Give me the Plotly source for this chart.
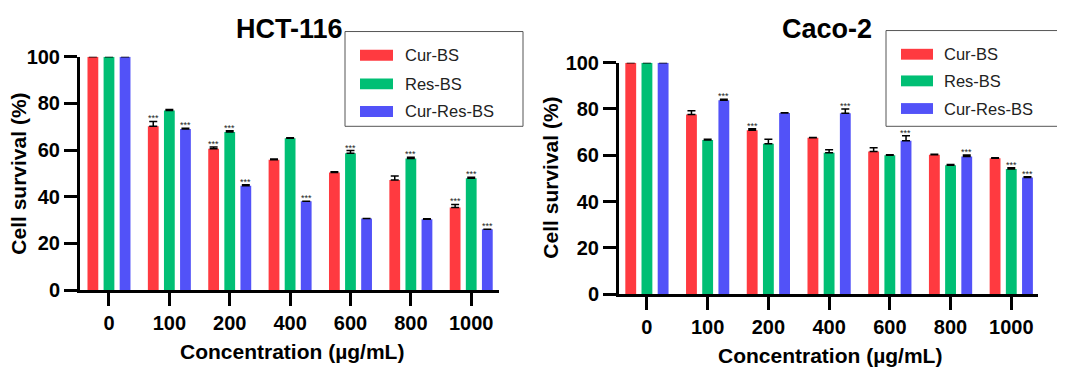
import plotly.graph_objects as go

W, H = 1065, 371

categories = ["0", "100", "200", "400", "600", "800", "1000"]
series_names = ["Cur-BS", "Res-BS", "Cur-Res-BS"]
colors = ["#FF3A40", "#00BF74", "#5252F8"]

# HCT-116
hct_cur = [100, 70.2, 60.6, 55.9, 50.4, 47.2, 35.4]
hct_res = [100, 77.0, 67.8, 65.1, 58.6, 56.4, 47.9]
hct_cres = [100, 69.0, 44.7, 38.1, 30.7, 30.4, 26.1]
hct_cur_err = [0, 2.1, 0.7, 0.3, 0.3, 1.7, 1.3]
hct_res_err = [0, 0.4, 0.5, 0.2, 1.2, 0.5, 0.5]
hct_cres_err = [0, 0.4, 0.5, 0.0, 0.0, 0.2, 0.0]
hct_stars = [[False, True, True, False, False, False, True],
             [False, False, True, False, True, True, True],
             [False, True, True, True, False, False, True]]

# Caco-2
caco_cur = [100, 77.6, 70.8, 67.5, 61.6, 60.2, 58.7]
caco_res = [100, 66.6, 65.0, 61.1, 60.0, 55.7, 54.1]
caco_cres = [100, 83.8, 78.2, 78.1, 66.2, 59.4, 50.4]
caco_cur_err = [0, 1.6, 0.6, 0.2, 1.6, 0.2, 0.2]
caco_res_err = [0, 0.3, 1.9, 1.3, 0.2, 0.3, 0.5]
caco_cres_err = [0, 0.4, 0.2, 1.9, 2.2, 0.7, 0.3]
caco_stars = [[False, False, True, False, False, False, False],
              [False, False, False, False, False, False, True],
              [False, True, False, True, True, True, True]]

FONT = "Liberation Sans"

# the page places the figure offset/compressed; convert target screen px -> paper
def px(x):
    return (x - 8) / W

def py(y):
    return 1 - ((y - 16.3) / 0.953) / H

fig = go.Figure()

panels = [
    dict(xa="x", ya="y", vals=[hct_cur, hct_res, hct_cres],
         errs=[hct_cur_err, hct_res_err, hct_cres_err], stars=hct_stars),
    dict(xa="x2", ya="y2", vals=[caco_cur, caco_res, caco_cres],
         errs=[caco_cur_err, caco_res_err, caco_cres_err], stars=caco_stars),
]

annotations = []
offsets = [-16, 0, 16]
for p in panels:
    for i, name in enumerate(series_names):
        fig.add_trace(go.Bar(
            x=categories, y=p["vals"][i], name=name,
            marker=dict(color=colors[i], line=dict(width=0)),
            error_y=dict(type="data", symmetric=False, array=p["errs"][i],
                         arrayminus=[0] * len(categories),
                         color="black", thickness=1.5, width=4),
            xaxis=p["xa"], yaxis=p["ya"], showlegend=False,
        ))
        for j, c in enumerate(categories):
            if p["stars"][i][j]:
                annotations.append(dict(
                    x=j, y=p["vals"][i][j] + p["errs"][i][j],
                    xref=p["xa"], yref=p["ya"], text="***",
                    showarrow=False, yanchor="bottom", xanchor="center",
                    xshift=offsets[i], yshift=-4,
                    font=dict(family=FONT, size=9, color="#222")))

axis_common = dict(showline=True, linewidth=3, linecolor="black",
                   ticks="outside", ticklen=13, tickwidth=3, tickcolor="black",
                   showgrid=False, zeroline=False,
                   tickfont=dict(family=FONT, size=20, color="black", weight="bold"))

fig.update_layout(
    width=W, height=H,
    margin=dict(l=0, r=0, t=0, b=0),
    paper_bgcolor="white", plot_bgcolor="white",
    barmode="group", bargap=0.2, bargroupgap=0.33,
    xaxis=dict(domain=[px(80), px(499)], anchor="y", type="category",
               range=[-0.48, 6.46], ticklabelstandoff=0, **axis_common),
    yaxis=dict(domain=[py(291), py(54.5)], anchor="x",
               range=[0, 100], tickvals=[0, 20, 40, 60, 80, 100],
               ticklabelstandoff=0, **axis_common),
    xaxis2=dict(domain=[px(619), px(1038)], anchor="y2", type="category",
                range=[-0.46, 6.44], ticklabelstandoff=0, **axis_common),
    yaxis2=dict(domain=[py(295), py(60.5)], anchor="x2",
                range=[0, 100], tickvals=[0, 20, 40, 60, 80, 100],
                ticklabelstandoff=0, **axis_common),
)

# Titles (pinned to top edge)
for t, x in [("HCT-116", 289), ("Caco-2", 827)]:
    annotations.append(dict(x=px(x), y=1, xref="paper", yref="paper",
                            text="<b>%s</b>" % t, showarrow=False,
                            xanchor="center", yanchor="top", yshift=7,
                            font=dict(family=FONT, size=27, color="black")))

# Axis titles
texts = [
    ("Concentration (µg/mL)", 292, 353, 0),
    ("Concentration (µg/mL)", 830, 357, 0),
    ("Cell survival (%)", 19, 173, -90),
    ("Cell survival (%)", 551, 177, -90),
]
for t, x, y, ang in texts:
    annotations.append(dict(x=px(x), y=py(y), xref="paper", yref="paper",
                            text="<b>%s</b>" % t, showarrow=False,
                            xanchor="center", yanchor="middle", textangle=ang,
                            font=dict(family=FONT, size=21, color="black")))

# Custom legends
shapes = []
legends = [
    dict(box=(345, 29, 523, 125), sw=(360, 393), tx=403, rows=[53, 82, 110]),
    dict(box=(886, 28, 1061, 125), sw=(901, 933), tx=942, rows=[52, 79, 107]),
]
for L in legends:
    x0, y0, x1, y1 = L["box"]
    shapes.append(dict(type="rect", xref="paper", yref="paper",
                       x0=px(x0), x1=px(x1), y0=py(y1), y1=py(y0),
                       line=dict(color="#555", width=1), fillcolor="white", layer="above"))
    for i, ry in enumerate(L["rows"]):
        shapes.append(dict(type="rect", xref="paper", yref="paper",
                           x0=px(L["sw"][0]), x1=px(L["sw"][1]),
                           y0=py(ry + 5.5), y1=py(ry - 5.5),
                           line=dict(width=0), fillcolor=colors[i], layer="above"))
        annotations.append(dict(x=px(L["tx"]), y=py(ry), xref="paper", yref="paper",
                                text=series_names[i], showarrow=False,
                                xanchor="left", yanchor="middle",
                                font=dict(family=FONT, size=16.5, color="#222")))

fig.update_layout(annotations=annotations, shapes=shapes)

fig.write_html("out.html")
